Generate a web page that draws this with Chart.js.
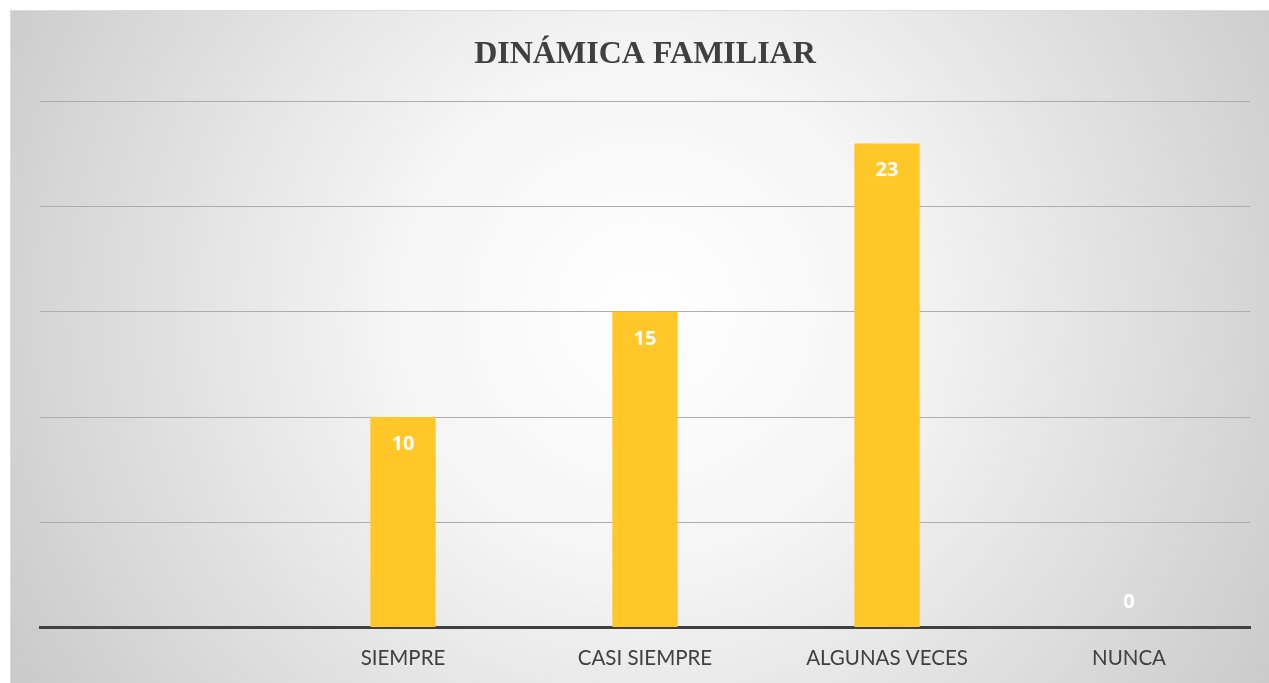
<!DOCTYPE html>
<html>
<head>
<meta charset="utf-8">
<script src="https://cdn.jsdelivr.net/npm/chart.js@4.4.1/dist/chart.umd.min.js"></script>
<style>
  html, body { margin: 0; padding: 0; background: #ffffff; }
  #wrap { position: relative; width: 1269px; height: 683px; }
</style>
</head>
<body>
<div id="wrap"><canvas id="c" width="1269" height="683"></canvas></div>
<script>
const categories = ["", "SIEMPRE", "CASI SIEMPRE", "ALGUNAS VECES", "NUNCA"];
const values = [null, 10, 15, 23, 0];
const chartTitle = "DINÁMICA FAMILIAR";
const yMin = 0, yMax = 25, yStep = 5;

const bgPlugin = {
  id: 'bg',
  beforeDraw(chart) {
    const ctx = chart.ctx;
    const W = chart.width, H = chart.height;
    ctx.save();
    ctx.fillStyle = '#ffffff';
    ctx.fillRect(0, 0, W, H);
    const x0 = 10, y0 = 10;
    const g = ctx.createRadialGradient(645, 310, 0, 645, 310, 720);
    g.addColorStop(0, '#ffffff');
    g.addColorStop(0.35, '#f5f5f5');
    g.addColorStop(1, '#cbcbcb');
    ctx.fillStyle = g;
    ctx.fillRect(x0, y0, W - x0, H - y0);
    ctx.strokeStyle = '#dcdcdc';
    ctx.lineWidth = 1;
    ctx.beginPath();
    ctx.moveTo(x0, y0 + 0.5); ctx.lineTo(W, y0 + 0.5);
    ctx.moveTo(x0 + 0.5, y0); ctx.lineTo(x0 + 0.5, H);
    ctx.stroke();
    ctx.restore();
  }
};

const labelPlugin = {
  id: 'vlabels',
  afterDatasetsDraw(chart) {
    const ctx = chart.ctx;
    const meta = chart.getDatasetMeta(0);
    ctx.save();
    ctx.fillStyle = '#ffffff';
    ctx.font = 'bold 20px "Open Sans", sans-serif';
    ctx.textAlign = 'center';
    ctx.textBaseline = 'middle';
    meta.data.forEach((bar, i) => {
      const v = values[i];
      if (v === null || v === undefined) return;
      const y = v === 0 ? bar.y - 25 : bar.y + 27;
      ctx.fillText(String(v), bar.x, y);
    });
    ctx.restore();
  }
};

new Chart(document.getElementById('c'), {
  type: 'bar',
  data: {
    labels: categories,
    datasets: [{
      data: values,
      backgroundColor: '#ffc828',
      borderWidth: 0,
      barPercentage: 0.27,
      categoryPercentage: 1.0
    }]
  },
  options: {
    responsive: false,
    animation: false,
    devicePixelRatio: 1,
    layout: { padding: { left: 40, right: 19, top: 0, bottom: -7 } },
    plugins: {
      legend: { display: false },
      tooltip: { enabled: false },
      title: {
        display: true,
        text: chartTitle,
        color: '#404040',
        font: { family: '"Liberation Serif", "Times New Roman", serif', size: 32, weight: 'bold' },
        padding: { top: 36, bottom: 27 }
      }
    },
    scales: {
      x: {
        grid: { display: false, drawTicks: false },
        border: { display: true, color: '#404040', width: 3 },
        ticks: { color: '#404040', font: { family: 'Lato, "Open Sans", sans-serif', size: 20.5 }, padding: 19 }
      },
      y: {
        min: yMin, max: yMax,
        ticks: { display: false, stepSize: yStep },
        grid: { color: '#adadad', lineWidth: 1, drawTicks: false },
        border: { display: false }
      }
    }
  },
  plugins: [bgPlugin, labelPlugin]
});
</script>
</body>
</html>
